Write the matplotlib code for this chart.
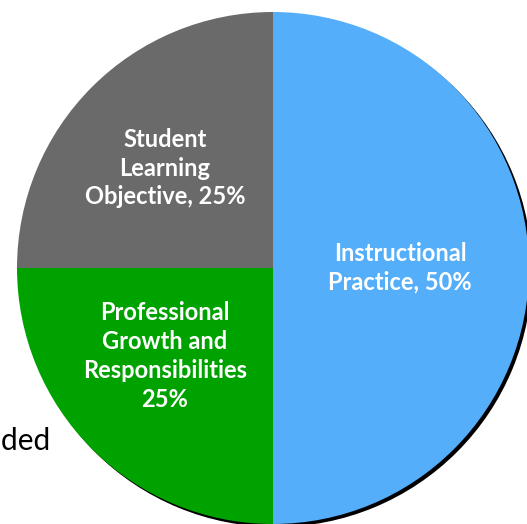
import matplotlib
matplotlib.use("Agg")
import matplotlib.pyplot as plt

labels = ["Instructional\nPractice, 50%",
          "Professional\nGrowth and\nResponsibilities\n25%",
          "Student\nLearning\nObjective, 25%"]
values = [50, 25, 25]
colors = ["#55AEF9", "#00A200", "#6A6A6A"]
label_pos = [(400, 256), (165, 168), (165, 356)]  # layout (pixels from bottom)
side_text = "Added"

W, H = 527, 524
fig = plt.figure(figsize=(W / 100, H / 100), dpi=100)
ax = fig.add_axes([0, 0, 1, 1])
ax.set_xlim(0, W)
ax.set_ylim(0, H)
ax.set_aspect("equal")
ax.axis("off")

cx, cy, r = 273, 256, 256

# shadow
ax.pie([sum(values)], colors=["black"], center=(cx + 3, cy - 3), radius=r,
       wedgeprops=dict(linewidth=0), frame=True)
ax.pie(values, colors=colors, center=(cx, cy), radius=r, startangle=90,
       counterclock=False, wedgeprops=dict(linewidth=0), frame=True)
ax.set_xlim(0, W)
ax.set_ylim(0, H)
ax.axis("off")

for lab, (x, y) in zip(labels, label_pos):
    ax.text(x, y, lab, ha="center", va="center", color="white",
            fontsize=17, fontweight="bold", family="Lato",
            linespacing=1.3)

ax.text(51, 74, side_text, ha="right", va="baseline", color="black",
        fontsize=21.5, family="Lato")

fig.savefig("out.png", dpi=100)
